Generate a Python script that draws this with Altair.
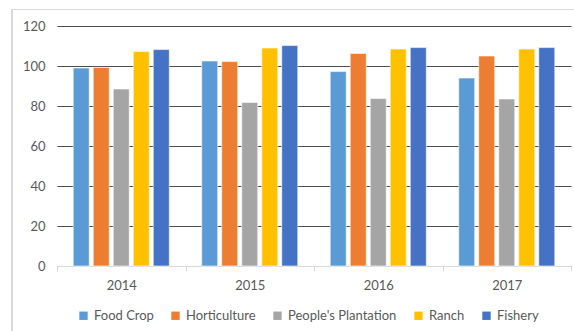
import altair as alt
import pandas as pd

years = ["2014", "2015", "2016", "2017"]
series = ["Food Crop", "Horticulture", "People's Plantation", "Ranch", "Fishery"]
colors = ["#5B9BD5", "#ED7D31", "#A5A5A5", "#FFC000", "#4472C4"]
food_crop = [99.0, 102.5, 97.2, 94.0]
horticulture = [99.3, 102.2, 106.3, 105.0]
plantation = [88.5, 81.8, 83.7, 83.5]
ranch = [107.2, 109.0, 108.5, 108.5]
fishery = [108.2, 110.2, 109.2, 109.2]

rows = []
for name, vals in zip(series, [food_crop, horticulture, plantation, ranch, fishery]):
    for y, v in zip(years, vals):
        rows.append({"Year": y, "Series": name, "Value": v})
df = pd.DataFrame(rows)

W, H = 514, 240
FONT = "Lato"
LC = "#595959"

bars = alt.Chart(df).mark_bar(stroke="white", strokeWidth=0.6).encode(
    x=alt.X("Year:N", sort=years, title=None,
            scale=alt.Scale(paddingInner=0, paddingOuter=0),
            axis=alt.Axis(labelAngle=0, tickBand="extent", tickSize=5,
                          tickColor="#d9d9d9", domainColor="#d9d9d9",
                          labelPadding=8, grid=False,
                          labelFont=FONT, labelFontSize=13, labelColor=LC)),
    xOffset=alt.XOffset("Series:N", sort=series,
                        scale=alt.Scale(paddingInner=0.2, paddingOuter=0.81)),
    y=alt.Y("Value:Q", title=None,
            scale=alt.Scale(domain=[0, 120], nice=False),
            axis=alt.Axis(values=[0, 20, 40, 60, 80, 100, 120], domain=False, ticks=False,
                          gridColor="#4d4d4d", gridWidth=1, labelPadding=12,
                          labelFont=FONT, labelFontSize=13, labelColor=LC)),
    color=alt.Color("Series:N", sort=series,
                    scale=alt.Scale(domain=series, range=colors),
                    legend=alt.Legend(title=None, orient="none", direction="horizontal",
                                      legendX=20, legendY=43 + H, symbolType="square",
                                      symbolSize=70, symbolStrokeWidth=0,
                                      columnPadding=15, labelFont=FONT,
                                      labelFontSize=13, labelColor=LC)),
)

frame_top = alt.Chart(df).mark_rule(stroke="#d9d9d9", strokeWidth=1.2, clip=False).encode(
    x=alt.value(-45), x2=alt.value(W + 3), y=alt.value(-16.5)
)
frame_left = alt.Chart(df).mark_rule(stroke="#d9d9d9", strokeWidth=1.2, clip=False).encode(
    x=alt.value(-45), y=alt.value(-16.5), y2=alt.value(H + 65)
)

chart = alt.layer(frame_top, frame_left, bars).properties(
    width=W, height=H,
    background="white",
    autosize=alt.AutoSizeParams(type="none"),
    padding={"left": 57, "top": 26, "right": 3, "bottom": 65},
).configure_view(stroke=None)

chart.save("out.html", embed_options={"renderer": "svg", "actions": False})
